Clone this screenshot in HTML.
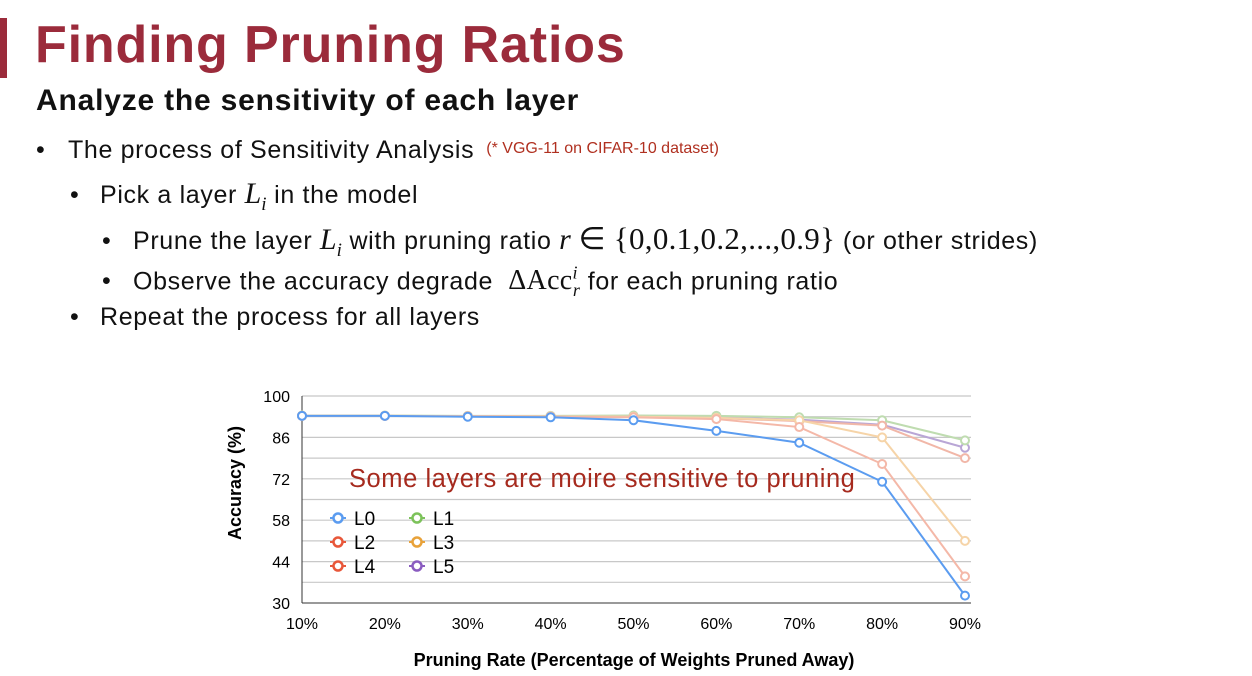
<!DOCTYPE html>
<html><head><meta charset="utf-8"><style>
body{margin:0;width:1252px;height:676px;background:#fff;position:relative;overflow:hidden;font-family:"Liberation Sans",sans-serif;color:#111}
.t{position:absolute;white-space:nowrap}
.b{font-size:25px;letter-spacing:0.65px}
.m{font-family:"Liberation Serif",serif;font-style:italic;font-size:30px;letter-spacing:0}
</style></head><body>
<div style="position:absolute;left:0;top:18px;width:7px;height:60px;background:#9b2b3b"></div>
<div class="t" style="left:35px;top:15px;font-size:52px;font-weight:bold;color:#9b2b3b;letter-spacing:0.85px">Finding Pruning Ratios</div>
<div class="t" style="left:36px;top:84px;font-size:30px;font-weight:bold;letter-spacing:0.8px">Analyze the sensitivity of each layer</div>
<div class="t b" style="left:36px;top:136px"><span style="display:inline-block;width:32px">•</span>The process of Sensitivity Analysis <span style="font-size:16px;color:#b03020;vertical-align:5px;letter-spacing:0">&nbsp;(* VGG-11 on CIFAR-10 dataset)</span></div>
<div class="t b" style="left:70px;top:177px"><span style="display:inline-block;width:30px">•</span>Pick a layer <span class="m">L<sub style="font-size:19px">i</sub></span> in the model</div>
<div class="t b" style="left:102px;top:221px"><span style="display:inline-block;width:31px">•</span>Prune the layer <span class="m">L<sub style="font-size:19px">i</sub></span> with pruning ratio <span class="m">r</span> <span style="font-family:'Liberation Serif',serif;font-size:31px;letter-spacing:0.3px">∈ {0,0.1,0.2,...,0.9}</span> (or other strides)</div>
<div class="t b" style="left:102px;top:263px"><span style="display:inline-block;width:31px">•</span>Observe the accuracy degrade &nbsp;<span style="font-family:'Liberation Serif',serif;font-size:28px;letter-spacing:0.3px">ΔAcc<sup style="font-size:18px;font-style:italic">i</sup><sub style="font-size:18px;font-style:italic;margin-left:-5px">r</sub></span> for each pruning ratio</div>
<div class="t b" style="left:70px;top:303px"><span style="display:inline-block;width:30px">•</span>Repeat the process for all layers</div>
<svg id="chart" width="1252" height="676" style="position:absolute;left:0;top:0"></svg>
<script>
const categories=["10%","20%","30%","40%","50%","60%","70%","80%","90%"];
const yTicks=[30,44,58,72,86,100];
const L0=[93.3,93.3,93,92.8,91.8,88.2,84.2,71,32.5];
const L1=[93.4,93.4,93.3,93.3,93.4,93.3,92.8,91.8,85];
const L2=[93.3,93.3,93.2,93.1,93,92.5,91.5,90,79];
const L3=[93.3,93.3,93.2,93.1,93,92.6,91.8,86,51];
const L4=[93.3,93.3,93.1,93,92.8,92.2,89.5,77,39];
const L5=[93.3,93.3,93.2,93.1,93,92.8,92,90.3,82.5];
const series=[
 {name:"L5",data:L5,color:"#b9a6d6"},{name:"L1",data:L1,color:"#bfdcb0"},
 {name:"L2",data:L2,color:"#f1b7a8"},{name:"L3",data:L3,color:"#f6d4a8"},
 {name:"L4",data:L4,color:"#f4b8a8"},{name:"L0",data:L0,color:"#5b9cf0"}];
const svg=document.getElementById('chart');const NS="http://www.w3.org/2000/svg";
const X0=302,X1=965,Y0=603,Y1=396;
const x=i=>X0+(X1-X0)*i/(categories.length-1);
const y=v=>Y0-(v-30)/70*(Y0-Y1);
function mk(t,a,p){const e=document.createElementNS(NS,t);for(const k in a)e.setAttribute(k,a[k]);(p||svg).appendChild(e);return e;}
for(let v=30;v<=100;v+=7){const g=mk('line',{x1:X0,x2:X1+6,y1:y(v),y2:y(v),stroke:v==30?'#333':'#c8c8c8','stroke-width':v==30?1:1.2});

}
const ax=mk('line',{x1:X0,x2:X0,y1:Y1,y2:Y0,stroke:'#333'});


yTicks.forEach(v=>{const t=mk('text',{x:X0-12,y:y(v)+6,'text-anchor':'end','font-size':'16','font-family':'Liberation Sans'});t.textContent=v;

});
categories.forEach((c,i)=>{const t=mk('text',{x:x(i),y:629,'text-anchor':'middle','font-size':'16','font-family':'Liberation Sans'});t.textContent=c;

});
series.forEach(s=>{const g=mk('g',{});


mk('polyline',{points:s.data.map((v,i)=>x(i)+','+y(v)).join(' '),fill:'none',stroke:s.color,'stroke-width':2},g);
s.data.forEach((v,i)=>{const c=mk('circle',{cx:x(i),cy:y(v),r:4,fill:'#fff',stroke:s.color,'stroke-width':2},g);

});});
const yt=mk('text',{x:0,y:0,transform:'translate(241,483) rotate(-90)','text-anchor':'middle','font-size':'18','font-weight':'bold','font-family':'Liberation Sans'});yt.textContent='Accuracy (%)';


const xt=mk('text',{x:634,y:666,'text-anchor':'middle','font-size':'18','font-weight':'bold','font-family':'Liberation Sans'});xt.textContent='Pruning Rate (Percentage of Weights Pruned Away)';


const an=mk('text',{x:349,y:487,'font-size':'25.5','letter-spacing':'0.55','fill':'#a62a1e','font-family':'Liberation Sans'});an.textContent='Some layers are moire sensitive to pruning';


const leg=[["L0","#5b9cf0",0,0],["L1","#7cc25a",1,0],["L2","#e8573a",0,1],["L3","#e8a23a",1,1],["L4","#e8573a",0,2],["L5","#8a5cc0",1,2]];
leg.forEach(l=>{const g=mk('g',{});


const lx=330+l[2]*79,ly=518+l[3]*24;
mk('line',{x1:lx,x2:lx+16,y1:ly,y2:ly,stroke:l[1],'stroke-width':2},g);
mk('circle',{cx:lx+8,cy:ly,r:4.5,fill:'#fff',stroke:l[1],'stroke-width':2.5},g);
const t=mk('text',{x:lx+24,y:ly+7,'font-size':'19','font-family':'Liberation Sans'},g);t.textContent=l[0];});
</script>
</body></html>
